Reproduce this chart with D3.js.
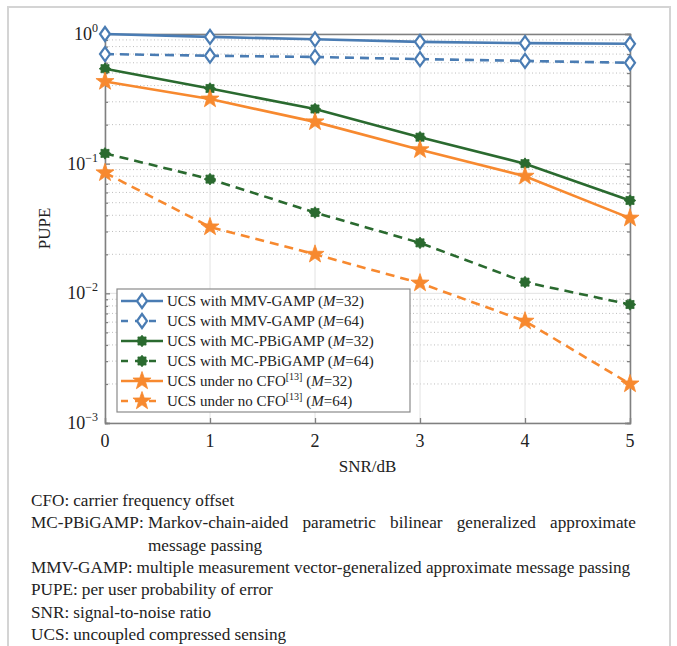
<!DOCTYPE html>
<html>
<head>
<meta charset="utf-8">
<script src="https://cdn.jsdelivr.net/npm/d3@7"></script>
<style>
  html, body { margin: 0; padding: 0; background: #fff; }
  svg { display: block; }
</style>
</head>
<body>
<div id="chart"></div>
<script>
(function () {
  'use strict';

  // SNR points (dB)
  const SNR = [0, 1, 2, 3, 4, 5];

  // PUPE values
  const mmvGamp32   = [1.0, 0.95, 0.91, 0.87, 0.85, 0.84];
  const mmvGamp64   = [0.70, 0.68, 0.665, 0.64, 0.62, 0.60];
  const mcPbi32     = [0.54, 0.38, 0.264, 0.16, 0.10, 0.052];
  const mcPbi64     = [0.12, 0.076, 0.042, 0.0245, 0.0122, 0.0082];
  const noCfo32     = [0.43, 0.315, 0.21, 0.128, 0.080, 0.038];
  const noCfo64     = [0.085, 0.0325, 0.020, 0.012, 0.0061, 0.002];

  const xTicks = [0, 1, 2, 3, 4, 5];
  const yDecades = [0, -1, -2, -3];

  const SERIES = [
    { label: 'UCS with MMV-GAMP', ref: '', m: 32, values: mmvGamp32, color: '#4a7cb3', dash: null,  marker: 'diamond' },
    { label: 'UCS with MMV-GAMP', ref: '', m: 64, values: mmvGamp64, color: '#4a7cb3', dash: '9,6', marker: 'diamond' },
    { label: 'UCS with MC-PBiGAMP', ref: '', m: 32, values: mcPbi32, color: '#2a6a2f', dash: null,  marker: 'blob' },
    { label: 'UCS with MC-PBiGAMP', ref: '', m: 64, values: mcPbi64, color: '#2a6a2f', dash: '9,6', marker: 'blob' },
    { label: 'UCS under no CFO', ref: '[13]', m: 32, values: noCfo32, color: '#f7892f', dash: null,  marker: 'star' },
    { label: 'UCS under no CFO', ref: '[13]', m: 64, values: noCfo64, color: '#f7892f', dash: '9,6', marker: 'star' },
  ];

  const CAPTION = [
    { key: 'CFO:', text: 'carrier frequency offset' },
    { key: 'MC-PBiGAMP:', text: 'Markov-chain-aided parametric bilinear generalized approximate', justify: true },
    { key: '', text: 'message passing', indent: true },
    { key: 'MMV-GAMP:', text: 'multiple measurement vector-generalized approximate message passing' },
    { key: 'PUPE:', text: 'per user probability of error' },
    { key: 'SNR:', text: 'signal-to-noise ratio' },
    { key: 'UCS:', text: 'uncoupled compressed sensing' },
  ];

  const FONT = 'Liberation Serif';
  const W = 677, H = 646;
  const svg = d3.select('#chart').append('svg').attr('width', W).attr('height', H);

  // outer frame
  svg.append('rect').attr('x', 8).attr('y', 7).attr('width', 662).attr('height', 660)
    .attr('fill', 'none').attr('stroke', '#d4d4d4').attr('stroke-width', 2);

  const plot = { left: 105, right: 630, top: 34, bottom: 423 };
  const x = d3.scaleLinear().domain([0, 5]).range([plot.left, plot.right]);
  const y = d3.scaleLog().domain([1e-3, 1]).range([plot.bottom, plot.top]);

  const AXIS = '#808080';

  // minor grid (dotted)
  const minor = [];
  for (let e = -3; e < 0; e++) for (let k = 2; k <= 9; k++) minor.push(k * Math.pow(10, e));
  const g = svg.append('g');
  g.selectAll('line.minor').data(minor).join('line')
    .attr('x1', plot.left).attr('x2', plot.right)
    .attr('y1', d => y(d)).attr('y2', d => y(d))
    .attr('stroke', '#bdbdbd').attr('stroke-width', 1).attr('stroke-dasharray', '1,2.5');

  // major grid
  g.selectAll('line.ymaj').data(yDecades.map(e => Math.pow(10, e))).join('line')
    .attr('x1', plot.left).attr('x2', plot.right)
    .attr('y1', d => y(d)).attr('y2', d => y(d))
    .attr('stroke', '#e2e2e2').attr('stroke-width', 1);
  g.selectAll('line.xmaj').data(xTicks).join('line')
    .attr('x1', d => x(d)).attr('x2', d => x(d))
    .attr('y1', plot.top).attr('y2', plot.bottom)
    .attr('stroke', '#e2e2e2').attr('stroke-width', 1);

  // axes with inward ticks
  const tickLen = 5;
  const axL = d3.axisRight(y).tickValues(yDecades.map(e => Math.pow(10, e))).tickSize(tickLen).tickFormat('');
  const axLm = d3.axisRight(y).tickValues(minor).tickSize(3).tickFormat('');
  const axR = d3.axisLeft(y).tickValues(yDecades.map(e => Math.pow(10, e))).tickSize(tickLen).tickFormat('');
  const axRm = d3.axisLeft(y).tickValues(minor).tickSize(3).tickFormat('');
  const axB = d3.axisTop(x).tickValues(xTicks).tickSize(tickLen).tickFormat('');
  const axT = d3.axisBottom(x).tickValues(xTicks).tickSize(tickLen).tickFormat('');
  [[axL, `translate(${plot.left},0)`], [axLm, `translate(${plot.left},0)`],
   [axR, `translate(${plot.right},0)`], [axRm, `translate(${plot.right},0)`],
   [axB, `translate(0,${plot.bottom})`], [axT, `translate(0,${plot.top})`]].forEach(([a, t]) => {
    const ax = svg.append('g').attr('transform', t).call(a);
    ax.selectAll('path,line').attr('stroke', AXIS).attr('stroke-width', 1.3);
  });

  // tick labels
  svg.append('g').selectAll('text').data(xTicks).join('text')
    .attr('font-family', FONT)
    .attr('x', d => x(d)).attr('y', 447)
    .attr('text-anchor', 'middle').attr('font-size', 18).attr('fill', '#222')
    .text(d => d);

  const yl = svg.append('g').selectAll('text').data(yDecades).join('text')
    .attr('font-family', FONT)
    .attr('x', 98).attr('y', d => y(Math.pow(10, d)) + 6)
    .attr('text-anchor', 'end').attr('font-size', 18).attr('fill', '#222');
  yl.append('tspan').text('10');
  yl.append('tspan').attr('dy', -8).attr('font-size', 12).text(d => d === 0 ? '0' : '\u2212' + (-d));

  // axis titles
  svg.append('text').attr('font-family', FONT)
    .attr('x', (plot.left + plot.right) / 2).attr('y', 472)
    .attr('text-anchor', 'middle').attr('font-size', 17).attr('fill', '#222').text('SNR/dB');
  svg.append('text').attr('font-family', FONT)
    .attr('transform', `translate(50,${(plot.top + plot.bottom) / 2}) rotate(-90)`)
    .attr('text-anchor', 'middle').attr('font-size', 17).attr('fill', '#222').text('PUPE');

  // marker shapes
  function markerPath(type) {
    if (type === 'diamond') return 'M0,-7L5,0L0,7L-5,0Z';
    if (type === 'star') {
      let p = '';
      for (let i = 0; i < 10; i++) {
        const r = i % 2 ? 3.8 : 9.5;
        const a = -Math.PI / 2 + i * Math.PI / 5;
        p += (i ? 'L' : 'M') + (r * Math.cos(a)).toFixed(2) + ',' + (r * Math.sin(a)).toFixed(2);
      }
      return p + 'Z';
    }
    let p = '';
    for (let i = 0; i < 16; i++) {
      const r = i % 2 ? 4.2 : 5.8;
      const a = -Math.PI / 2 + i * Math.PI / 8;
      p += (i ? 'L' : 'M') + (r * Math.cos(a)).toFixed(2) + ',' + (r * Math.sin(a)).toFixed(2);
    }
    return p + 'Z';
  }
  function drawMarker(sel, s) {
    sel.append('path').attr('d', markerPath(s.marker))
      .attr('fill', s.marker === 'diamond' ? '#fff' : s.color)
      .attr('stroke', s.color)
      .attr('stroke-width', s.marker === 'diamond' ? 2.2 : 0.8)
      .attr('stroke-linejoin', 'miter');
  }

  const line = d3.line().x((d, i) => x(SNR[i])).y(d => y(d));
  const lines = svg.append('g');
  SERIES.forEach(s => {
    lines.append('path').datum(s.values)
      .attr('d', line).attr('fill', 'none')
      .attr('stroke', s.color).attr('stroke-width', 2.6)
      .attr('stroke-dasharray', s.dash);
    s.values.forEach((v, i) => {
      drawMarker(lines.append('g').attr('transform', `translate(${x(SNR[i])},${y(v)})`), s);
    });
  });

  // legend
  const leg = svg.append('g').attr('transform', 'translate(117,289)');
  leg.append('rect').attr('width', 293).attr('height', 123)
    .attr('fill', '#fff').attr('stroke', '#8a8a8a').attr('stroke-width', 1.2);
  SERIES.forEach((s, i) => {
    const cy = 12 + i * 20;
    const row = leg.append('g').attr('transform', `translate(0,${cy})`);
    row.append('line').attr('x1', 4).attr('x2', 46).attr('y1', 0).attr('y2', 0)
      .attr('stroke', s.color).attr('stroke-width', 2.6)
      .attr('stroke-dasharray', s.dash ? '7,7' : null);
    drawMarker(row.append('g').attr('transform', 'translate(25,0)'), s);
    const t = row.append('text').attr('font-family', FONT).attr('x', 50).attr('y', 5)
      .attr('font-size', 15).attr('fill', '#222');
    t.append('tspan').text(s.label);
    if (s.ref) t.append('tspan').attr('dy', -6).attr('font-size', 10).text(s.ref);
    t.append('tspan').attr('dy', s.ref ? 6 : 0).text(' (');
    t.append('tspan').attr('font-style', 'italic').text('M');
    t.append('tspan').text('=' + s.m + ')');
  });

  // caption below the chart
  const cap = svg.append('g');
  const capX = 31, capIndent = 148, capRight = 636;
  function capText(px, py, str) {
    return cap.append('text').attr('font-family', FONT).attr('font-size', 17.2)
      .attr('fill', '#222').attr('x', px).attr('y', py).text(str);
  }
  CAPTION.forEach((c, i) => {
    const by = 506 + i * 22.3;
    let keyW = 0;
    if (c.key) keyW = capText(capX, by, c.key).node().getComputedTextLength();
    if (c.justify) {
      const ws = c.text.split(' ').map(w => {
        const t = capText(0, by, w);
        return { t, w: t.node().getComputedTextLength() };
      });
      const gap = (capRight - capIndent - d3.sum(ws, d => d.w)) / (ws.length - 1);
      let cx = capIndent;
      ws.forEach(d => { d.t.attr('x', cx); cx += d.w + gap; });
    } else {
      capText(c.indent ? capIndent : capX + keyW + 4, by, c.text);
    }
  });
})();
</script>
</body>
</html>
